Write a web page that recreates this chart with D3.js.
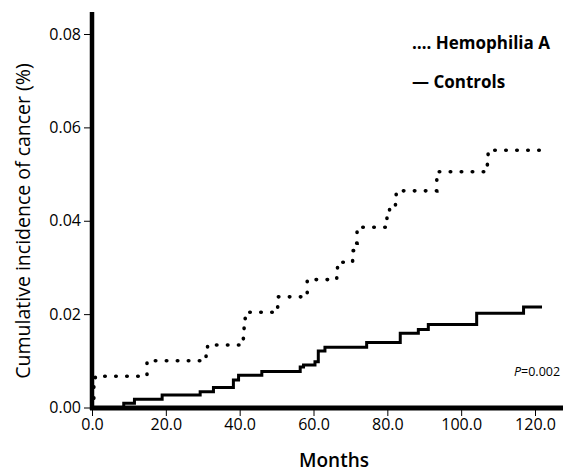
<!DOCTYPE html>
<html>
<head>
<meta charset="utf-8">
<script src="https://cdn.jsdelivr.net/npm/d3@7"></script>
<style>
  body { margin: 0; background: #fff; }
  text { font-family: "Open Sans", "Noto Sans", sans-serif; fill: #000; }
</style>
</head>
<body>
<script>
// data
var hemoMonths = [0, 0.5, 0.9, 14.9, 30.9, 31.3, 40.8, 41.0, 41.2, 41.5, 50.0, 50.3, 58.0, 58.3, 66.3, 66.5, 70.6, 71.5, 71.8, 72.3, 79.9, 80.6, 82.2, 82.4, 93.4, 93.6, 107.1, 107.3, 121.9];
var hemoValues = [0, 0.0046, 0.0067, 0.0100, 0.0121, 0.0134, 0.0139, 0.0162, 0.0186, 0.0204, 0.0210, 0.0237, 0.0243, 0.0274, 0.0298, 0.0311, 0.0336, 0.0352, 0.0376, 0.0386, 0.0408, 0.0424, 0.0439, 0.0464, 0.0493, 0.0505, 0.0528, 0.0551, 0.0551];
var ctrlMonths = [0, 8.6, 11.5, 19.0, 29.3, 32.9, 38.3, 39.7, 46.0, 56.4, 57.3, 60.4, 61.3, 63.1, 74.4, 83.5, 88.4, 91.1, 104.2, 116.9, 121.9];
var ctrlValues = [0, 0.0009, 0.00175, 0.0027, 0.0034, 0.0043, 0.0059, 0.0069, 0.0077, 0.0087, 0.0091, 0.0098, 0.0121, 0.0129, 0.0139, 0.0159, 0.0167, 0.0178, 0.0202, 0.0215, 0.0215];
var xTicks = [0, 20, 40, 60, 80, 100, 120];
var yTicks = [0, 0.02, 0.04, 0.06, 0.08];

width = 563;
height = 474;

var x = d3.scaleLinear().domain([0, 120]).range([92, 535]);
var y = d3.scaleLinear().domain([0, 0.08]).range([407.5, 34]);

var svg = d3.select("body").append("svg")
    .attr("width", width)
    .attr("height", height);

var hemo = hemoMonths.map((m, i) => ({m: m, v: hemoValues[i]}));
var ctrl = ctrlMonths.map((m, i) => ({m: m, v: ctrlValues[i]}));

var line = d3.line()
    .x(d => x(d.m))
    .y(d => y(d.v))
    .curve(d3.curveStepAfter);

svg.append("path")
    .datum(ctrl)
    .attr("fill", "none")
    .attr("stroke", "#000")
    .attr("stroke-width", 3)
    .attr("d", line);

svg.append("path")
    .datum(hemo)
    .attr("fill", "none")
    .attr("stroke", "#000")
    .attr("stroke-width", 3.6)
    .attr("stroke-linecap", "round")
    .attr("stroke-dasharray", "0.5,10.5")
    .attr("d", line);

// y axis
var yAxis = svg.append("g")
    .attr("transform", "translate(92,0)")
    .call(d3.axisLeft(y).tickValues(yTicks).tickFormat(d3.format(".2f")).tickSize(8).tickPadding(3));
yAxis.select(".domain").remove();
yAxis.selectAll(".tick line").attr("stroke", "#000").attr("stroke-width", 1);
yAxis.selectAll(".tick text")
    .style("font-size", "16px")
    .attr("x", -11);

// x axis
var xAxis = svg.append("g")
    .attr("transform", "translate(0,408)")
    .call(d3.axisBottom(x).tickValues(xTicks).tickFormat(d3.format(".1f")).tickSize(8).tickPadding(3));
xAxis.select(".domain").remove();
xAxis.selectAll(".tick line").attr("stroke", "#000").attr("stroke-width", 1);
xAxis.selectAll(".tick text")
    .style("font-size", "16px")
    .attr("y", 11);

// thick axis lines
svg.append("line")
    .attr("x1", 92).attr("x2", 92)
    .attr("y1", 12).attr("y2", 410)
    .attr("stroke", "#000").attr("stroke-width", 4.5);
svg.append("line")
    .attr("x1", 90).attr("x2", 563)
    .attr("y1", 408).attr("y2", 408)
    .attr("stroke", "#000").attr("stroke-width", 5);

// axis titles
svg.append("text")
    .attr("transform", "translate(30,221) rotate(-90)")
    .attr("text-anchor", "middle")
    .style("font-size", "19.5px")
    .style("font-weight", 500)
    .text("Cumulative incidence of cancer (%)");

svg.append("text")
    .attr("x", 334)
    .attr("y", 467)
    .attr("text-anchor", "middle")
    .style("font-size", "19px")
    .style("font-weight", 600)
    .text("Months");

// legend
svg.append("text")
    .attr("x", 412)
    .attr("y", 49)
    .style("font-size", "17px")
    .style("font-weight", "bold")
    .text("…. Hemophilia A");

svg.append("text")
    .attr("x", 412)
    .attr("y", 88)
    .style("font-size", "17px")
    .style("font-weight", "bold")
    .text("— Controls");

var p = svg.append("text")
    .attr("x", 514)
    .attr("y", 376)
    .style("font-size", "12.5px");
p.append("tspan").style("font-style", "italic").text("P");
p.append("tspan").text("=0.002");
</script>
</body>
</html>
